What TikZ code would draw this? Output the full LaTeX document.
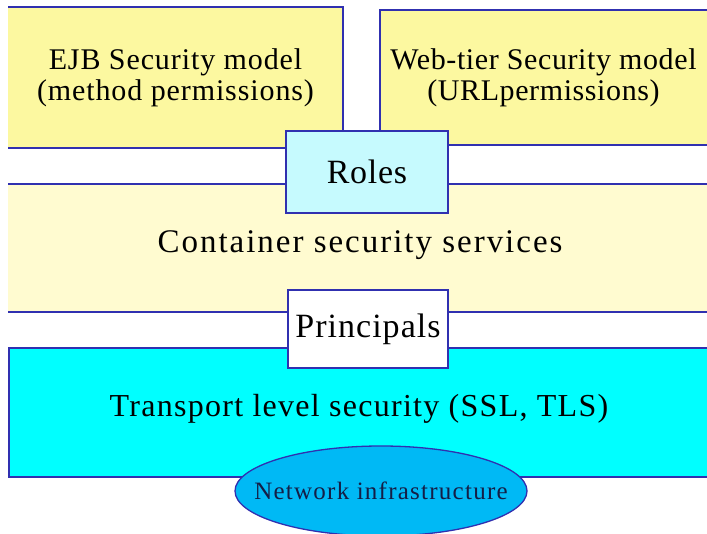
\documentclass[tikz,border=0pt]{standalone}
\usepackage{fontspec}
\setmainfont{Liberation Serif}
\usetikzlibrary{shapes.geometric}
\definecolor{topyellow}{RGB}{252,248,160}
\definecolor{paleyellow}{RGB}{255,251,208}
\definecolor{rolecyan}{RGB}{198,250,254}
\definecolor{transcyan}{RGB}{0,255,255}
\definecolor{netblue}{RGB}{0,185,245}
\definecolor{edgeblue}{RGB}{48,48,176}
\definecolor{nettext}{RGB}{20,30,70}
\tikzset{
  band/.style={rectangle, inner sep=0pt, outer sep=0pt, align=center},
  edge/.style={draw=edgeblue, line width=1.3pt},
  smallbox/.style={rectangle, draw=edgeblue, line width=1.3pt, inner sep=0pt},
}
\begin{document}
\begin{tikzpicture}[x=1pt,y=-1pt]
\useasboundingbox[fill=white] (0,0) rectangle (707,534);
% top boxes
\node[band, fill=topyellow, minimum width=335pt, minimum height=141pt,
      font=\fontsize{30}{31}\selectfont\addfontfeature{LetterSpace=3}] (ejb) at (175.5,77.5) {EJB Security model\\(method permissions)};
\draw[edge] (ejb.south west) -- (ejb.south east) -- (ejb.north east) -- (ejb.north west);
\node[band, fill=topyellow, minimum width=327pt, minimum height=135pt,
      font=\fontsize{30}{31}\selectfont\addfontfeature{LetterSpace=2}] (web) at (543.5,77.5) {Web-tier Security model\\(URLpermissions)};
\draw[edge] (web.south east) -- (web.south west) -- (web.north west) -- (web.north east);
% container band
\node[band, fill=paleyellow, minimum width=699pt, minimum height=128pt] (cont) at (357.5,248) {};
\node[font=\fontsize{33}{36}\selectfont\addfontfeature{LetterSpace=6}] (conttext) at (360,245) {Container security services};
\draw[edge] (cont.north west) -- (cont.north east);
\draw[edge] (cont.south west) -- (cont.south east);
% roles
\node[smallbox, fill=rolecyan, minimum width=162pt, minimum height=82pt,
      font=\fontsize{34}{36}\selectfont\addfontfeature{LetterSpace=2}] (roles) at (367,172) {Roles};
% transport band
\node[band, fill=transcyan, minimum width=698pt, minimum height=129pt] (trans) at (358,412.5) {};
\node[font=\fontsize{32}{35}\selectfont\addfontfeature{LetterSpace=4}] (transtext) at (359,409) {Transport level security (SSL, TLS)};
\draw[edge] (trans.north east) -- (trans.north west) -- (trans.south west) -- (trans.south east);
% principals
\node[smallbox, fill=white, minimum width=160pt, minimum height=78pt,
      font=\fontsize{34}{36}\selectfont\addfontfeature{LetterSpace=3}] (princ) at (368,329) {Principals};
% network ellipse
\node[ellipse, draw=edgeblue, line width=1.3pt, fill=netblue, minimum width=292pt, minimum height=90pt, inner sep=0pt] (net) at (381,491) {};
\node[text=nettext, font=\fontsize{25}{27}\selectfont\addfontfeature{LetterSpace=5}] (nettext) at (net.center) {Network infrastructure};
\end{tikzpicture}
\end{document}
